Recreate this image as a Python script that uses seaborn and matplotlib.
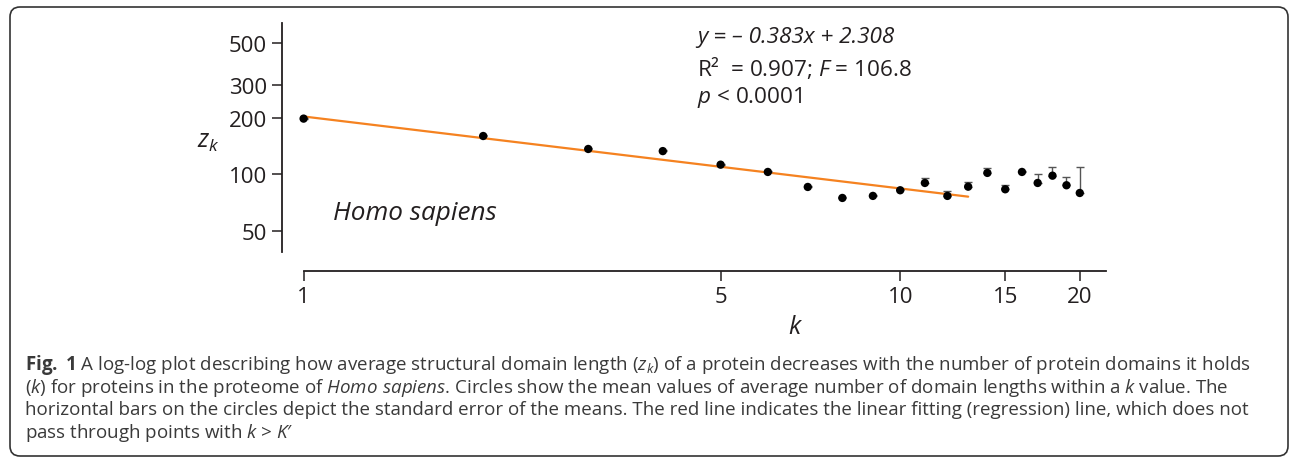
import numpy as np
import pandas as pd
import matplotlib
matplotlib.use("Agg")
import matplotlib.pyplot as plt
import matplotlib.transforms as mtransforms
from matplotlib.patches import FancyBboxPatch
from matplotlib.ticker import NullLocator
import seaborn as sns

# mean domain length z_k per number of domains k
k_values = list(range(1, 21))
z_mean = [198, 160, 136.5, 133, 112.6, 103, 85.7, 74.9, 76.8, 82.3,
          90, 76.8, 86, 101.8, 83.3, 103, 90, 98.4, 87.5, 79.6]
# standard error, only drawn upwards in the original
z_sem = [1.0, 1.0, 1.0, 1.0, 1.0, 1.0, 1.0, 1.0, 1.0, 1.5,
         5.3, 4.9, 4.7, 6.8, 4.9, 1.5, 10.5, 11.1, 9.8, 29.9]

# regression in log10 space, fitted up to K' = 13
fit_slope = -0.383
fit_intercept = 2.308
fit_range = [1, 13]

x_ticks = [1, 5, 10, 15, 20]
y_ticks = [50, 100, 200, 300, 500]

df = pd.DataFrame({"k": k_values, "z": z_mean, "sem": z_sem})
fit = pd.DataFrame({"k": fit_range})
fit["z"] = 10 ** (fit_intercept + fit_slope * np.log10(fit["k"]))

sns.set_style("ticks")
plt.rcParams["font.family"] = ["Open Sans", "DejaVu Sans"]
plt.rcParams["mathtext.fontset"] = "custom"
plt.rcParams["mathtext.rm"] = "Open Sans"
plt.rcParams["mathtext.it"] = "Open Sans:italic"
plt.rcParams["mathtext.bf"] = "Open Sans:bold"

W, H = 1292, 460
ink = "#231f20"
fig = plt.figure(figsize=(W / 100, H / 100), dpi=100)
ax = fig.add_axes([282 / W, 1 - 272 / H, (1106 - 282) / W, (272 - 24) / H])

ax.errorbar(df["k"], df["z"], yerr=[np.zeros(len(df)), df["sem"]], fmt="none",
            ecolor="#555555", elinewidth=1.0, capsize=3, capthick=1.0, zorder=2)
sns.lineplot(data=fit, x="k", y="z", color="#f58220", linewidth=1.6, ax=ax, zorder=1)
sns.scatterplot(data=df, x="k", y="z", color="black", s=36, edgecolor="none",
                zorder=3, ax=ax)

ax.set_xscale("log")
ax.set_yscale("log")
ax.set_xlim(0.920, 22.13)
ax.set_ylim(30.6, 639)
ax.set_xticks(x_ticks)
ax.set_xticklabels([str(t) for t in x_ticks])
ax.set_yticks(y_ticks)
ax.set_yticklabels([str(t) for t in y_ticks])
ax.xaxis.set_minor_locator(NullLocator())
ax.yaxis.set_minor_locator(NullLocator())
ax.set_xlabel("")
ax.set_ylabel("")

for side in ["top", "right"]:
    ax.spines[side].set_visible(False)
ax.spines["left"].set_bounds(38.7, 639)
ax.spines["bottom"].set_bounds(1, 22.13)
for side in ["left", "bottom"]:
    ax.spines[side].set_linewidth(1.3)
    ax.spines[side].set_color(ink)
ax.tick_params(direction="out", length=7, width=1.1, color=ink,
               labelsize=16, labelcolor=ink, pad=4)

# axis labels and annotations
fig.text(208 / W, 1 - 141 / H, r"$z_k$", fontsize=18, color=ink, ha="center", va="center")
fig.text(794 / W, 1 - 328 / H, "k", fontsize=18, style="italic", color=ink,
         ha="center", va="center")
fig.text(333 / W, 1 - 214 / H, "Homo sapiens", fontsize=18.8, style="italic", color=ink,
         ha="left", va="center")
fig.text(697 / W, 1 - 38 / H, "y = \u2013 0.383x + 2.308", fontsize=16.2, style="italic",
         color=ink, ha="left", va="center")
fig.text(697 / W, 1 - 68 / H, "R\u00b2  = 0.907; $F$ = 106.8", fontsize=16.2, color=ink,
         ha="left", va="center")
fig.text(697 / W, 1 - 97 / H, r"$p$ < 0.0001", fontsize=16.2, color=ink,
         ha="left", va="center")

# caption
caption = [
    r"$\mathbf{Fig.}$ $\mathbf{1}$ A log-log plot describing how average structural domain length ($z_k$) "
    r"of a protein decreases with the number of protein domains it holds",
    r"($k$) for proteins in the proteome of $\mathit{Homo\ sapiens}$. Circles show the mean "
    r"values of average number of domain lengths within a $k$ value. The",
    "horizontal bars on the circles depict the standard error of the means. The red line "
    "indicates the linear fitting (regression) line, which does not",
    "pass through points with $k$ > $K$\u2032",
]
for i, line in enumerate(caption):
    fig.text(25 / W, 1 - (365 + 22.7 * i) / H, line, fontsize=13.5, color="#3a3a3a",
             ha="left", va="center")

# rounded frame around the whole figure
frame = FancyBboxPatch((10, H - 457), 1278, 449, boxstyle="round,pad=0,rounding_size=10",
                       transform=mtransforms.IdentityTransform(), fill=False,
                       edgecolor="#333333", linewidth=1.2)
fig.add_artist(frame)

fig.savefig("out.png", dpi=100)
